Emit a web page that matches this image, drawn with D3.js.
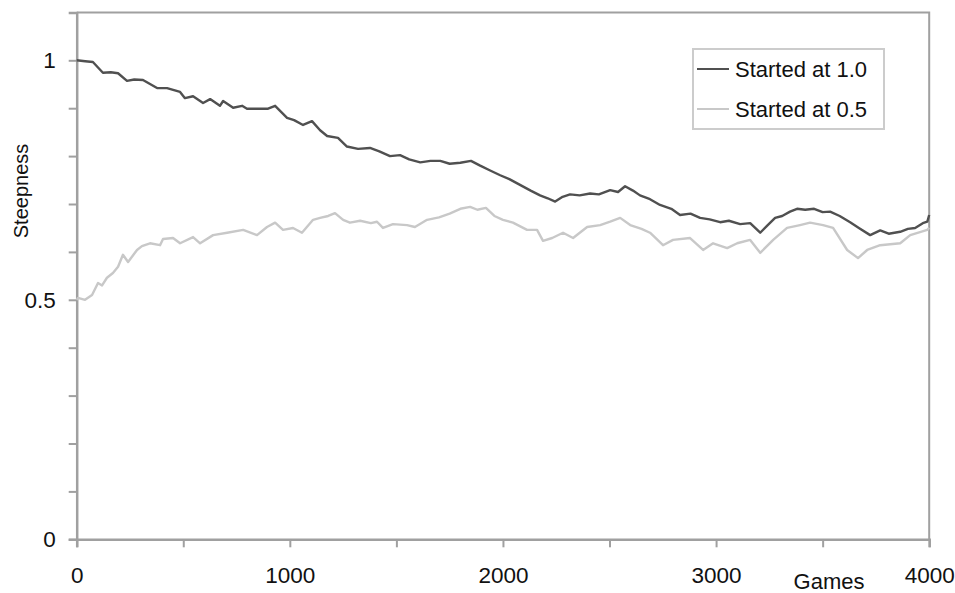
<!DOCTYPE html>
<html>
<head>
<meta charset="utf-8">
<script src="https://cdn.jsdelivr.net/npm/d3@7"></script>
<style>
  body { margin: 0; background: #fff; }
  svg { display: block; font-family: "Liberation Sans", Arial, sans-serif; }
</style>
</head>
<body>
<svg width="955" height="593"></svg>
<script>
const width = 955;
const height = 593;

// series: games played, steepness
const gamesHigh = [0, 40, 76, 100, 123, 160, 194, 236, 270, 311, 377, 424, 485, 508, 546, 593, 626, 672, 687, 734,
  776, 799, 860, 898, 931, 987, 1020, 1062, 1104, 1142, 1175, 1226, 1268, 1320, 1376, 1420, 1470, 1517, 1560, 1612,
  1660, 1706, 1750, 1800, 1850, 1893, 1940, 1987, 2030, 2080, 2130, 2174, 2210, 2245, 2280, 2315, 2360, 2409, 2450, 2503,
  2540, 2573, 2610, 2643, 2690, 2737, 2790, 2831, 2880, 2925, 2970, 3019, 3060, 3113, 3160, 3207, 3240, 3277, 3310, 3347,
  3380, 3418, 3460, 3500, 3535, 3580, 3629, 3670, 3723, 3770, 3810, 3864, 3900, 3934, 3970, 3991, 4000];
const steepHigh = [1.0, 0.998, 0.9965, 0.985, 0.974, 0.975, 0.973, 0.957, 0.96, 0.959, 0.942, 0.942, 0.934, 0.921, 0.925, 0.911, 0.919, 0.905, 0.915, 0.901,
  0.905, 0.899, 0.899, 0.899, 0.905, 0.880, 0.875, 0.865, 0.873, 0.854, 0.842, 0.838, 0.820, 0.815, 0.817, 0.81, 0.80, 0.802, 0.793, 0.787,
  0.79, 0.79, 0.784, 0.786, 0.79, 0.78, 0.77, 0.76, 0.752, 0.74, 0.728, 0.718, 0.712, 0.705, 0.715, 0.72, 0.718, 0.722, 0.72, 0.729,
  0.725, 0.737, 0.728, 0.718, 0.71, 0.698, 0.69, 0.677, 0.68, 0.671, 0.668, 0.662, 0.665, 0.658, 0.66, 0.640, 0.655, 0.671, 0.675, 0.684,
  0.69, 0.688, 0.69, 0.683, 0.684, 0.675, 0.662, 0.65, 0.635, 0.645, 0.638, 0.642, 0.648, 0.65, 0.66, 0.663, 0.677];

const gamesLow = [0, 6, 39, 72, 100, 119, 142, 170, 194, 217, 241, 283, 306, 344, 391, 405, 452, 485, 546, 579,
  640, 706, 781, 846, 893, 931, 968, 1015, 1057, 1109, 1142, 1180, 1212, 1250, 1282, 1330, 1380, 1409, 1437, 1484,
  1550, 1587, 1644, 1700, 1750, 1800, 1846, 1880, 1920, 1960, 2000, 2047, 2113, 2160, 2188, 2231, 2282, 2329, 2395, 2456,
  2503, 2550, 2597, 2650, 2690, 2751, 2798, 2878, 2939, 2986, 3052, 3099, 3160, 3207, 3268, 3333, 3394, 3441, 3502, 3549,
  3615, 3666, 3709, 3770, 3864, 3911, 3991, 4000];
const steepLow = [0.50, 0.504, 0.50, 0.51, 0.535, 0.53, 0.546, 0.556, 0.569, 0.594, 0.579, 0.604, 0.612, 0.618, 0.614, 0.627, 0.629, 0.618, 0.631, 0.618,
  0.635, 0.64, 0.646, 0.635, 0.652, 0.661, 0.646, 0.65, 0.64, 0.667, 0.671, 0.675, 0.681, 0.667, 0.661, 0.665, 0.66, 0.663, 0.65, 0.658,
  0.656, 0.652, 0.667, 0.672, 0.68, 0.69, 0.694, 0.688, 0.692, 0.675, 0.667, 0.661, 0.646, 0.646, 0.623, 0.629, 0.64, 0.629, 0.652, 0.656,
  0.663, 0.671, 0.656, 0.648, 0.64, 0.614, 0.625, 0.629, 0.604, 0.618, 0.608, 0.618, 0.625, 0.598, 0.625, 0.65, 0.656, 0.661, 0.656, 0.65,
  0.604, 0.587, 0.604, 0.614, 0.618, 0.635, 0.646, 0.65];

const seriesNames = ["Started at 1.0", "Started at 0.5"];
const seriesColors = ["#505050", "#c8c8c8"];
const xTicks = [0, 500, 1000, 1500, 2000, 2500, 3000, 3500, 4000];
const xLabels = [0, 1000, 2000, 3000, 4000];
const yTicks = [0, 0.1, 0.2, 0.3, 0.4, 0.5, 0.6, 0.7, 0.8, 0.9, 1.0];
const yLabels = [0, 0.5, 1];

const margin = { top: 12.4, right: 25.8, bottom: 53.7, left: 76.7 };

const x = d3.scaleLinear()
  .domain([0, 4000])
  .range([margin.left, width - margin.right]);

const y = d3.scaleLinear()
  .domain([0, 1.1])
  .range([height - margin.bottom, margin.top]);

const svg = d3.select("svg");
const axisColor = "#a0a0a0";

// frame (top and right)
svg.append("path")
    .attr("d", `M${x(0)},${y(1.1)}H${x(4000)}V${y(0)}`)
    .attr("fill", "none")
    .attr("stroke", axisColor)
    .attr("stroke-width", 2);

const xAxis = svg.append("g")
    .attr("transform", `translate(0,${y(0)})`)
    .call(d3.axisBottom(x)
      .tickValues(xTicks)
      .tickSize(8)
      .tickFormat(d => xLabels.includes(d) ? d : ""));

const yAxis = svg.append("g")
    .attr("transform", `translate(${x(0)},0)`)
    .call(d3.axisLeft(y)
      .tickValues(yTicks)
      .tickSize(8)
      .tickFormat(d => yLabels.some(v => Math.abs(v - d) < 1e-9) ? d3.format("")(+d.toFixed(1)) : ""));

[xAxis, yAxis].forEach(g => {
  g.select(".domain").attr("stroke", axisColor).attr("stroke-width", 2.5);
  g.selectAll(".tick line").attr("stroke", axisColor).attr("stroke-width", 2);
  g.selectAll(".tick text")
    .attr("fill", "#111")
    .attr("font-size", 22.5)
    .attr("font-family", "Liberation Sans, Arial, sans-serif");
});
xAxis.selectAll(".tick text").attr("y", 28).attr("dy", "0.71em");
yAxis.selectAll(".tick text").attr("x", -21);

const line = d3.line()
  .x(d => x(d[0]))
  .y(d => y(d[1]));

const series = [
  d3.zip(gamesHigh, steepHigh),
  d3.zip(gamesLow, steepLow)
];

// light line underneath, dark on top
svg.append("g")
  .selectAll("path")
  .data(series.map((s, i) => ({ s, i })).reverse())
  .join("path")
    .attr("d", d => line(d.s))
    .attr("fill", "none")
    .attr("stroke", d => seriesColors[d.i])
    .attr("stroke-width", 2.4)
    .attr("stroke-linejoin", "round");

// axis titles
svg.append("text")
    .attr("x", 829)
    .attr("y", 589)
    .attr("text-anchor", "middle")
    .attr("font-size", 22)
    .attr("fill", "#111")
    .text("Games");

svg.append("text")
    .attr("transform", "translate(28,191) rotate(-90)")
    .attr("text-anchor", "middle")
    .attr("font-size", 20)
    .attr("fill", "#111")
    .text("Steepness");

// legend
const legend = svg.append("g");
legend.append("rect")
    .attr("x", 693)
    .attr("y", 49)
    .attr("width", 191)
    .attr("height", 80)
    .attr("fill", "#fff")
    .attr("stroke", "#cccccc")
    .attr("stroke-width", 2);

const item = legend.selectAll("g")
  .data(seriesNames)
  .join("g")
    .attr("transform", (d, i) => `translate(0,${69 + i * 40})`);

item.append("line")
    .attr("x1", 697)
    .attr("x2", 729)
    .attr("stroke", (d, i) => seriesColors[i])
    .attr("stroke-width", 2);

item.append("text")
    .attr("x", 735)
    .attr("y", 8)
    .attr("font-size", 22)
    .attr("fill", "#111")
    .text(d => d);
</script>
</body>
</html>
